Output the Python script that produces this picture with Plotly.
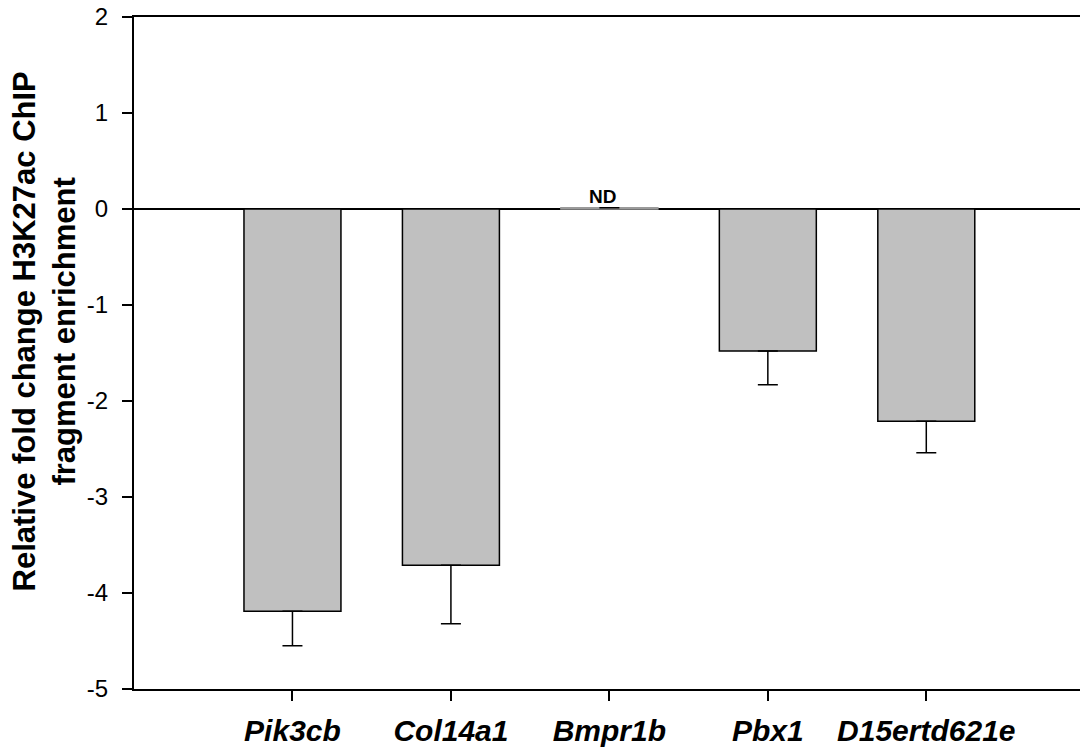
import plotly.graph_objects as go

genes = ["Pik3cb", "Col14a1", "Bmpr1b", "Pbx1", "D15ertd621e"]
fold_change = [-4.19, -3.71, 0.012, -1.48, -2.21]
err_down = [0.36, 0.61, 0.0, 0.35, 0.33]
outline_colors = ["black", "black", "#9a9a9a", "black", "black"]
y_ticks = [2, 1, 0, -1, -2, -3, -4, -5]
y_tick_text = ["2", "1", "0", "-1", "-2", "-3", "-4", "-5"]
y_title = "<b>Relative fold change H3K27ac ChIP<br>fragment enrichment</b>"

FONT = "Arial, Liberation Sans, sans-serif"

fig = go.Figure()
fig.add_trace(go.Bar(
    x=genes, y=fold_change, width=0.612,
    marker=dict(color="#c0c0c0", line=dict(color=outline_colors, width=1.5)),
    error_y=dict(type="data", symmetric=False, array=[0]*len(genes), arrayminus=err_down,
                 color="black", thickness=1.5, width=10),
    showlegend=False,
))

fig.add_annotation(x="Bmpr1b", y=0, yshift=13, xshift=-7, text="<b>ND</b>", showarrow=False,
                   font=dict(family=FONT, size=19, color="black"))

# y-axis title (placed as a rotated annotation to match the reference's offset)
fig.add_annotation(xref="paper", yref="paper", x=0, y=0.532, xshift=-90,
                   xanchor="center", yanchor="middle", textangle=-90,
                   text=y_title, showarrow=False,
                   font=dict(family=FONT, size=31, color="black"))

fig.update_layout(
    width=1081, height=749,
    paper_bgcolor="white", plot_bgcolor="white",
    margin=dict(l=134, r=1, t=17, b=60),
    font=dict(family=FONT, color="black"),
    xaxis=dict(
        range=[-1.0, 4.97], showline=True, linecolor="black", linewidth=2, mirror=True,
        ticks="outside", ticklen=10, tickwidth=1.5, tickcolor="black",
        tickfont=dict(size=30, family=FONT),
        tickvals=genes, ticktext=[f"<b><i>{g}</i></b>" for g in genes],
        ticklabelstandoff=4, showgrid=False, automargin=False,
    ),
    yaxis=dict(
        range=[-5, 2], tickvals=y_ticks, ticktext=y_tick_text,
        showline=True, linecolor="black", linewidth=2,
        ticks="outside", ticklen=10, tickwidth=1.5, tickcolor="black",
        tickfont=dict(size=24, family=FONT), ticklabelstandoff=9,
        showgrid=False, zeroline=True, zerolinecolor="black", zerolinewidth=2,
        automargin=False,
    ),
)

fig.write_html("out.html", config={"displayModeBar": False})
with open("out.html", "r", encoding="utf-8") as f:
    page = f.read()
page = page.replace("<head>", "<head><style>html,body{margin:0;padding:0;overflow:hidden;}</style>", 1)
with open("out.html", "w", encoding="utf-8") as f:
    f.write(page)
